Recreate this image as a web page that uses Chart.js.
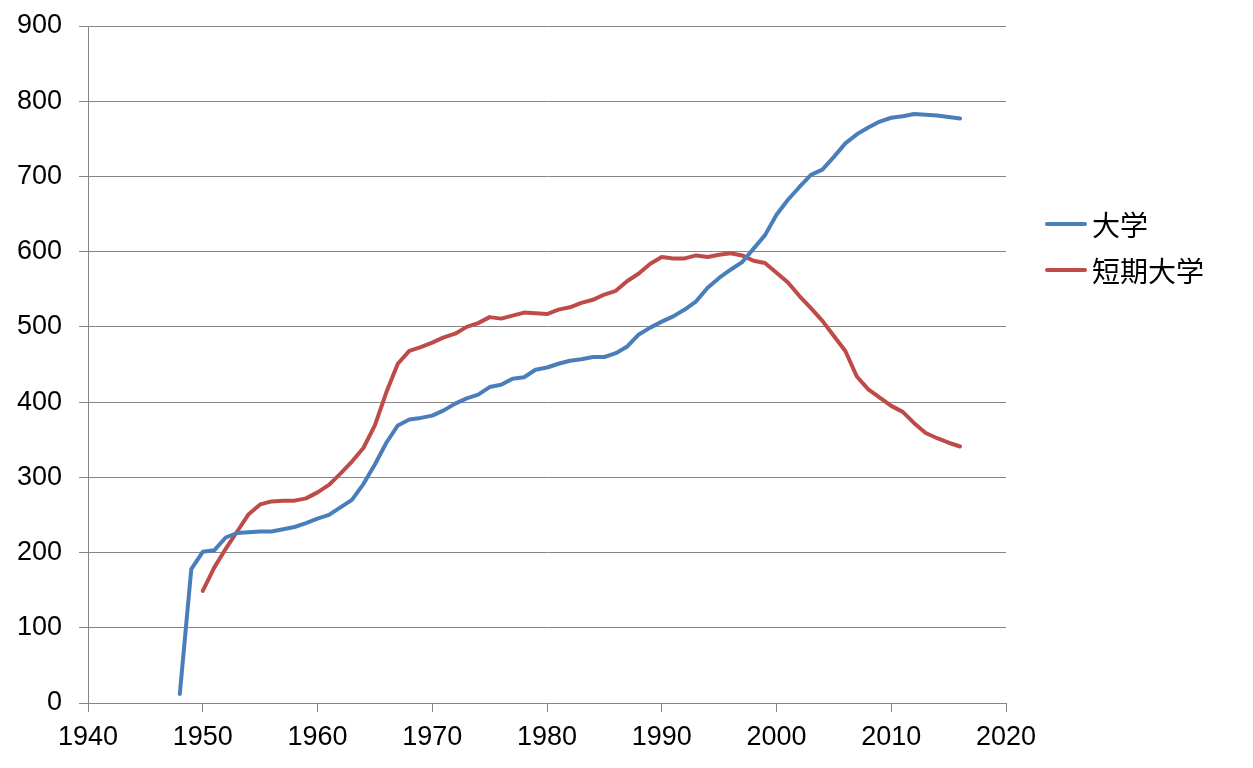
<!DOCTYPE html>
<html lang="ja">
<head>
<meta charset="utf-8">
<title>大学・短期大学</title>
<script src="https://cdn.jsdelivr.net/npm/chart.js@4.4.1/dist/chart.umd.min.js"></script>
<style>
  html, body { margin: 0; padding: 0; background: #fff; }
  #wrap { position: relative; width: 1253px; height: 768px; }
  #legend { position: absolute; left: 1045px; top: 201px; font-family: "Liberation Sans", Arial, "Noto Sans CJK JP", sans-serif; font-size: 28px; color: #000; }
  .lg-row { display: flex; align-items: center; height: 46px; }
  .lg-line { width: 42px; height: 4px; border-radius: 2px; margin-right: 5px; }
</style>
</head>
<body>
<div id="wrap">
  <canvas id="chart"></canvas>
  <div id="legend"></div>
</div>
<script>
// ===== data =====
const BLUE = '#4a7ebb';
const RED  = '#be4b48';
const GRID = '#868686';

const daigakuYears = [1948,1949,1950,1951,1952,1953,1954,1955,1956,1957,1958,1959,
  1960,1961,1962,1963,1964,1965,1966,1967,1968,1969,1970,1971,1972,1973,1974,1975,
  1976,1977,1978,1979,1980,1981,1982,1983,1984,1985,1986,1987,1988,1989,1990,1991,
  1992,1993,1994,1995,1996,1997,1998,1999,2000,2001,2002,2003,2004,2005,2006,2007,
  2008,2009,2010,2011,2012,2013,2014,2015,2016];
const daigaku = [12,178,201,203,220,226,227,228,228,231,234,239,
  245,250,260,270,291,317,346,369,377,379,382,389,398,405,410,420,
  423,431,433,443,446,451,455,457,460,460,465,474,490,499,507,514,
  523,534,552,565,576,586,604,622,649,669,686,702,709,726,744,756,
  765,773,778,780,783,782,781,779,777];

const tandaiYears = [1950,1951,1952,1953,1954,1955,1956,1957,1958,1959,
  1960,1961,1962,1963,1964,1965,1966,1967,1968,1969,1970,1971,1972,1973,1974,1975,
  1976,1977,1978,1979,1980,1981,1982,1983,1984,1985,1986,1987,1988,1989,1990,1991,
  1992,1993,1994,1995,1996,1997,1998,1999,2000,2001,2002,2003,2004,2005,2006,2007,
  2008,2009,2010,2011,2012,2013,2014,2015,2016];
const tandai = [149,180,205,228,251,264,268,269,269,272,
  280,290,305,321,339,369,413,451,468,473,479,486,491,500,505,513,
  511,515,519,518,517,523,526,532,536,543,548,561,571,584,593,591,
  591,595,593,596,598,595,588,585,572,559,541,525,508,488,468,434,
  417,406,395,387,372,359,352,346,341];

const seriesNames = ['大学', '短期大学'];
const xTicks = [1940, 1950, 1960, 1970, 1980, 1990, 2000, 2010, 2020];
const yTicks = [0, 100, 200, 300, 400, 500, 600, 700, 800, 900];

const FONT = { family: '"Liberation Sans", Arial, sans-serif', size: 27 };

function toPoints(xs, ys) {
  return xs.map((x, i) => ({ x, y: ys[i] }));
}

const datasets = [
  { label: seriesNames[0], data: toPoints(daigakuYears, daigaku), borderColor: BLUE },
  { label: seriesNames[1], data: toPoints(tandaiYears, tandai), borderColor: RED }
].map(ds => Object.assign(ds, {
  borderWidth: 4, pointRadius: 0, tension: 0, fill: false,
  borderJoinStyle: 'round', borderCapStyle: 'round'
}));

new Chart(document.getElementById('chart'), {
  type: 'line',
  data: { datasets },
  options: {
    responsive: true, maintainAspectRatio: false, animation: false,
    layout: { padding: { top: 26, right: 247, bottom: 0, left: 0 } },
    plugins: { legend: { display: false }, tooltip: { enabled: false } },
    scales: {
      x: {
        type: 'linear', min: xTicks[0], max: xTicks[xTicks.length - 1],
        afterBuildTicks: s => { s.ticks = xTicks.map(v => ({ value: v })); },
        afterFit: s => { s.height = 65; s.paddingLeft = 0; s.paddingRight = 0; },
        grid: { drawOnChartArea: false, drawTicks: true, tickLength: 9, color: GRID, lineWidth: 1 },
        border: { color: GRID, width: 1 },
        ticks: { color: '#000', font: FONT, padding: 9, maxRotation: 0, callback: v => String(v) }
      },
      y: {
        min: yTicks[0], max: yTicks[yTicks.length - 1],
        afterBuildTicks: s => { s.ticks = yTicks.map(v => ({ value: v })); },
        afterFit: s => { s.width = 88; s.paddingTop = 0; s.paddingBottom = 0; },
        grid: { color: GRID, lineWidth: 1, tickLength: 9 },
        border: { color: GRID, width: 1 },
        ticks: { color: '#000', font: FONT, padding: 17, callback: v => String(v) }
      }
    }
  }
});

// legend as html text
document.getElementById('legend').innerHTML = datasets.map(ds =>
  `<div class="lg-row"><span class="lg-line" style="background:${ds.borderColor}"></span>${ds.label}</div>`
).join('');
</script>
</body>
</html>
